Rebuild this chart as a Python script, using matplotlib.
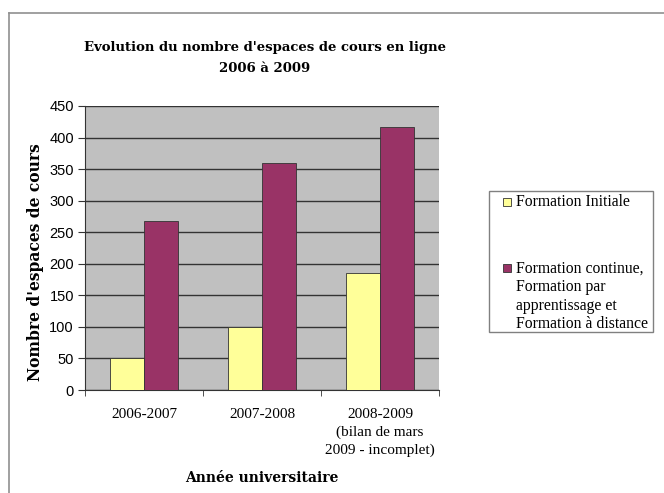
import matplotlib
matplotlib.use("Agg")
import matplotlib.pyplot as plt
from matplotlib.patches import Rectangle
from matplotlib.lines import Line2D
import numpy as np

categories = ["2006-2007", "2007-2008", "2008-2009\n(bilan de mars\n2009 - incomplet)"]
initiale = [51, 100, 186]
continue_ = [268, 360, 416]
series_labels = ["Formation Initiale",
                 "Formation continue,\nFormation par\napprentissage et\nFormation à distance"]
series_colors = ["#FFFF99", "#993366"]
yticks = list(range(0, 451, 50))

W, H = 664, 493
fig = plt.figure(figsize=(W/100, H/100), dpi=100)
serif = ["Liberation Serif", "DejaVu Serif"]
sans = ["Liberation Sans", "DejaVu Sans"]

def fx(px):
    return px / W

def fy(py):
    return 1 - py / H

# outer border
fig.add_artist(Line2D([fx(9), fx(9)], [0, fy(13)], color="#909090", lw=1.2))
fig.add_artist(Line2D([fx(9), 1], [fy(13), fy(13)], color="#909090", lw=1.2))

ax = fig.add_axes([fx(85), fy(390), (439-85)/W, (390-106)/H])
ax.set_facecolor("#C0C0C0")
x = np.arange(len(categories))
bw = 0.284
ax.bar(x - bw/2, initiale, bw, color=series_colors[0], edgecolor="#333333", linewidth=0.6, zorder=3)
ax.bar(x + bw/2, continue_, bw, color=series_colors[1], edgecolor="#333333", linewidth=0.6, zorder=3)
ax.set_xlim(-0.5, len(categories)-0.5)
ax.set_ylim(0, 450)
ax.set_yticks(yticks)
ax.yaxis.grid(True, color="#333333", linewidth=1.0, zorder=1)
ax.set_axisbelow(True)
ax.set_xticks(x)
ax.set_xticklabels(categories, fontfamily=serif, fontsize=11, linespacing=1.42)
ax.set_xticks(np.arange(-0.5, len(categories)), minor=True)
ax.tick_params(axis="x", which="major", length=0, pad=13)
ax.tick_params(axis="x", which="minor", length=4, direction="out", color="#333333")
ax.tick_params(axis="y", length=5, direction="out", color="#333333", labelsize=10.5, pad=3)
for lbl in ax.get_yticklabels():
    lbl.set_fontfamily(sans)
for s in ["top", "right"]:
    ax.spines[s].set_visible(False)
ax.spines["left"].set_color("#333333")
ax.spines["bottom"].set_color("#333333")

fig.text(fx(36), fy(262), "Nombre d'espaces de cours", fontfamily="DejaVu Serif", fontweight="bold",
         fontsize=11.2, rotation=90, ha="center", va="center")
fig.text(fx(262), fy(478), "Année universitaire", fontfamily="DejaVu Serif", fontweight="bold",
         fontsize=10, ha="center", va="center")
fig.text(fx(265), fy(58), "Evolution du nombre d'espaces de cours en ligne\n2006 à 2009",
         fontfamily="DejaVu Serif", fontweight="bold", fontsize=9.5, ha="center", va="center",
         linespacing=1.75)

# legend (manual)
fig.add_artist(Rectangle((fx(489), fy(332)), (653-489)/W, (332-191)/H, facecolor="white",
                         edgecolor="#808080", linewidth=1.0))
sq_w, sq_h = 8, 8
for lab, col, ytop in zip(series_labels, series_colors, [198, 264]):
    fig.add_artist(Rectangle((fx(503), fy(ytop + sq_h)), sq_w/W, sq_h/H, facecolor=col,
                             edgecolor="#333333", linewidth=0.6))
    fig.text(fx(516), fy(ytop - 3.5), lab, fontfamily=serif, fontsize=11.3, ha="left", va="top",
             linespacing=1.22)

fig.savefig("out.png", dpi=100)
